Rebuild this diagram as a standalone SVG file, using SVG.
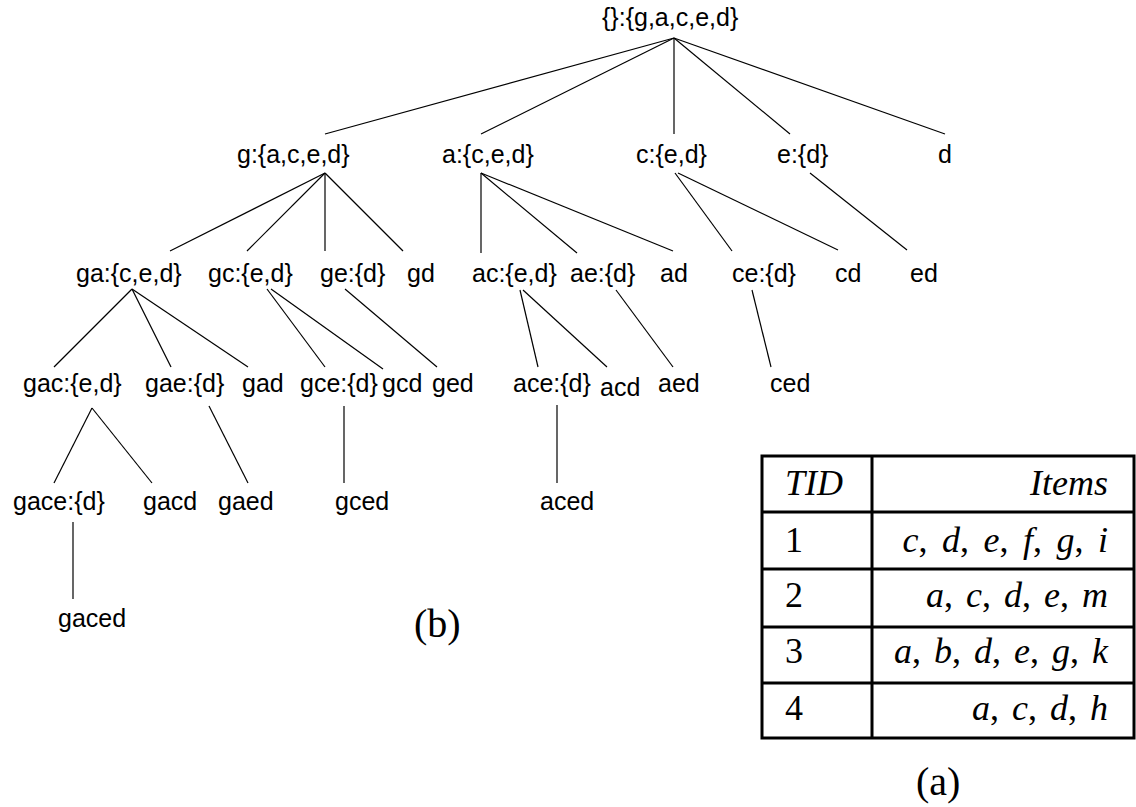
<svg xmlns="http://www.w3.org/2000/svg" width="1136" height="807" viewBox="0 0 1136 807">
<style>
.n{font-family:"Liberation Sans",Arial,sans-serif;font-size:25px;fill:#000}
.t{font-family:"Liberation Serif","Times New Roman",serif;font-size:36px;fill:#000}
.i{font-style:italic}
.u{font-style:normal}
.m{font-family:"Liberation Serif","Times New Roman",serif;font-size:36px;font-style:italic;fill:#000;text-anchor:end}
.c line{stroke:#000;stroke-width:1.2}
.tb{fill:none;stroke:#000;stroke-width:3}
</style>
<rect width="1136" height="807" fill="#fff"/>
<g class="c" id="connectors">
<line x1="674" y1="38" x2="325" y2="134"/>
<line x1="674" y1="38" x2="481" y2="134"/>
<line x1="674" y1="38" x2="674" y2="134"/>
<line x1="674" y1="38" x2="790" y2="134"/>
<line x1="674" y1="38" x2="945" y2="134"/>
<line x1="325" y1="173" x2="170" y2="251"/>
<line x1="325" y1="173" x2="247" y2="251"/>
<line x1="325" y1="173" x2="325" y2="251"/>
<line x1="325" y1="173" x2="403" y2="251"/>
<line x1="481" y1="173" x2="481" y2="253"/>
<line x1="481" y1="173" x2="577" y2="253"/>
<line x1="481" y1="173" x2="673" y2="251"/>
<line x1="675" y1="173" x2="732" y2="251"/>
<line x1="678" y1="173" x2="838" y2="250"/>
<line x1="810" y1="173" x2="907" y2="250"/>
<line x1="132" y1="289" x2="54" y2="367"/>
<line x1="132" y1="289" x2="171" y2="367"/>
<line x1="132" y1="289" x2="248" y2="367"/>
<line x1="267" y1="289" x2="325" y2="367"/>
<line x1="271" y1="289" x2="383" y2="369"/>
<line x1="345" y1="289" x2="437" y2="367"/>
<line x1="520" y1="290" x2="538" y2="367"/>
<line x1="523" y1="290" x2="607" y2="367"/>
<line x1="616" y1="290" x2="673" y2="367"/>
<line x1="752" y1="290" x2="771" y2="367"/>
<line x1="92" y1="408" x2="54" y2="483"/>
<line x1="92" y1="408" x2="152" y2="483"/>
<line x1="209" y1="406" x2="248" y2="483"/>
<line x1="344" y1="406" x2="344" y2="483"/>
<line x1="557" y1="405" x2="557" y2="483"/>
<line x1="73" y1="522" x2="73" y2="599"/>
</g>
<g id="n-root"><text class="n" x="602" y="26">{}:{g,a,c,e,d}</text></g>
<g id="n-g"><text class="n" x="237" y="163">g:{a,c,e,d}</text></g>
<g id="n-a"><text class="n" x="442" y="163">a:{c,e,d}</text></g>
<g id="n-c"><text class="n" x="636" y="163">c:{e,d}</text></g>
<g id="n-e"><text class="n" x="777" y="163">e:{d}</text></g>
<g id="n-d"><text class="n" x="938" y="163">d</text></g>
<g id="n-ga"><text class="n" x="76" y="282">ga:{c,e,d}</text></g>
<g id="n-gc"><text class="n" x="208" y="282">gc:{e,d}</text></g>
<g id="n-ge"><text class="n" x="320" y="282">ge:{d}</text></g>
<g id="n-gd"><text class="n" x="407" y="282">gd</text></g>
<g id="n-ac"><text class="n" x="472" y="282">ac:{e,d}</text></g>
<g id="n-ae"><text class="n" x="570" y="282">ae:{d}</text></g>
<g id="n-ad"><text class="n" x="660" y="282">ad</text></g>
<g id="n-ce"><text class="n" x="732" y="282">ce:{d}</text></g>
<g id="n-cd"><text class="n" x="835" y="282">cd</text></g>
<g id="n-ed"><text class="n" x="910" y="282">ed</text></g>
<g id="n-gac"><text class="n" x="23" y="392">gac:{e,d}</text></g>
<g id="n-gae"><text class="n" x="145" y="392">gae:{d}</text></g>
<g id="n-gad"><text class="n" x="242" y="392">gad</text></g>
<g id="n-gce"><text class="n" x="300" y="392">gce:{d}</text></g>
<g id="n-gcd"><text class="n" x="382" y="392">gcd</text></g>
<g id="n-ged"><text class="n" x="432" y="392">ged</text></g>
<g id="n-ace"><text class="n" x="513" y="392">ace:{d}</text></g>
<g id="n-acd"><text class="n" x="600" y="396">acd</text></g>
<g id="n-aed"><text class="n" x="658" y="392">aed</text></g>
<g id="n-ced"><text class="n" x="770" y="392">ced</text></g>
<g id="n-gace"><text class="n" x="13" y="510">gace:{d}</text></g>
<g id="n-gacd"><text class="n" x="143" y="510">gacd</text></g>
<g id="n-gaed"><text class="n" x="218" y="510">gaed</text></g>
<g id="n-gced"><text class="n" x="335" y="510">gced</text></g>
<g id="n-aced"><text class="n" x="540" y="510">aced</text></g>
<g id="n-gaced"><text class="n" x="58" y="627">gaced</text></g>
<text class="t" x="414" y="637" style="font-size:40px">(b)</text>
<g id="table">
<rect class="tb" x="762" y="456" width="372" height="282"/>
<line class="tb" x1="872" y1="456" x2="872" y2="738"/>
<line class="tb" x1="762" y1="512" x2="1134" y2="512"/>
<line class="tb" x1="762" y1="569" x2="1134" y2="569"/>
<line class="tb" x1="762" y1="627" x2="1134" y2="627"/>
<line class="tb" x1="762" y1="683" x2="1134" y2="683"/>
<text class="t i" x="785" y="495">TID</text>
<text class="t i" x="1108" y="495" text-anchor="end">Items</text>
<text class="t" x="785" y="552">1</text>
<text class="t" x="785" y="607">2</text>
<text class="t" x="785" y="663">3</text>
<text class="t" x="785" y="720">4</text>
<text class="m" x="1108" y="552" word-spacing="5.5">c<tspan class="u">, </tspan>d<tspan class="u">, </tspan>e<tspan class="u">, </tspan>f<tspan class="u">, </tspan>g<tspan class="u">, </tspan>i</text>
<text class="m" x="1108" y="607" word-spacing="4">a<tspan class="u">, </tspan>c<tspan class="u">, </tspan>d<tspan class="u">, </tspan>e<tspan class="u">, </tspan>m</text>
<text class="m" x="1108" y="663" word-spacing="4">a<tspan class="u">, </tspan>b<tspan class="u">, </tspan>d<tspan class="u">, </tspan>e<tspan class="u">, </tspan>g<tspan class="u">, </tspan>k</text>
<text class="m" x="1108" y="720" word-spacing="4">a<tspan class="u">, </tspan>c<tspan class="u">, </tspan>d<tspan class="u">, </tspan>h</text>
<text class="t" x="916" y="795" style="font-size:40px">(a)</text>
</g>
</svg>
